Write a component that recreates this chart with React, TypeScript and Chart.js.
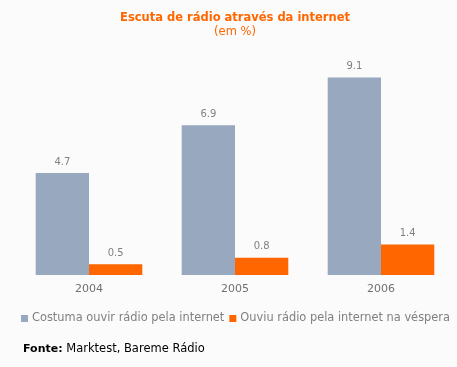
import React, { useEffect, useRef } from "react";
import { Chart, registerables } from "chart.js";

Chart.register(...registerables);

const categories = ["2004", "2005", "2006"];
const seriesNames = ["Costuma ouvir rádio pela internet", "Ouviu rádio pela internet na véspera"];
const costuma = [4.7, 6.9, 9.1];
const ouviu = [0.5, 0.8, 1.4];
const titleText = "Escuta de rádio através da internet";
const subtitleText = "(em %)";
const sourceLabel = "Fonte:";
const sourceText = " Marktest, Bareme Rádio";

const GRAY = "#97a8bf";
const ORANGE = "#ff6600";
const BG = "#fbfbfb";
const FONT = "'DejaVu Sans', Verdana, sans-serif";

export default function App() {
  const ref = useRef<HTMLCanvasElement>(null);
  useEffect(() => {
    document.body.style.margin = "0";
    document.body.style.background = BG;
    const canvas = ref.current!;
    const decor = {
      id: "decor",
      beforeDraw(chart: any) {
        const ctx = chart.ctx;
        ctx.save();
        ctx.fillStyle = BG;
        ctx.fillRect(0, 0, chart.width, chart.height);
        ctx.restore();
      },
      afterDraw(chart: any) {
        const ctx = chart.ctx;
        const area = chart.chartArea;
        const cx = (area.left + area.right) / 2;
        ctx.save();
        ctx.textAlign = "center";
        ctx.textBaseline = "middle";
        ctx.fillStyle = ORANGE;
        ctx.font = `bold 11.5px ${FONT}`;
        ctx.fillText(titleText, cx, 18);
        ctx.font = `11.5px ${FONT}`;
        ctx.fillText(subtitleText, cx, 32);

        // value labels
        ctx.font = `10px ${FONT}`;
        ctx.fillStyle = "#808080";
        chart.data.datasets.forEach((ds: any, di: number) => {
          const meta = chart.getDatasetMeta(di);
          meta.data.forEach((el: any, i: number) => {
            ctx.fillText(String(ds.data[i]), el.x, el.y - 11);
          });
        });

        // legend
        ctx.textAlign = "left";
        ctx.font = `11.4px ${FONT}`;
        let x = 21;
        const ly = 318;
        const colors = [GRAY, ORANGE];
        seriesNames.forEach((name, i) => {
          ctx.fillStyle = colors[i];
          ctx.fillRect(x, ly - 3, 7, 7);
          x += 11;
          ctx.fillStyle = "#808080";
          ctx.fillText(name, x, ly);
          x += ctx.measureText(name).width + 5;
        });

        // source
        ctx.fillStyle = "#000000";
        ctx.font = `bold 11px ${FONT}`;
        ctx.fillText(sourceLabel, 23, 349);
        const w = ctx.measureText(sourceLabel).width;
        ctx.font = `11.5px ${FONT}`;
        ctx.fillText(sourceText, 23 + w, 349);
        ctx.restore();
      },
    };
    const chart = new Chart(canvas, {
      type: "bar",
      data: {
        labels: categories,
        datasets: [
          { label: seriesNames[0], data: costuma, backgroundColor: GRAY, categoryPercentage: 0.73, barPercentage: 1 },
          { label: seriesNames[1], data: ouviu, backgroundColor: ORANGE, categoryPercentage: 0.73, barPercentage: 1 },
        ],
      },
      options: {
        animation: false,
        responsive: false,
        maintainAspectRatio: false,
        layout: { padding: { top: 58, left: 16, right: 3, bottom: 62 } },
        plugins: { legend: { display: false }, title: { display: false }, tooltip: { enabled: false } },
        scales: {
          x: {
            grid: { display: false, drawTicks: false },
            border: { display: false },
            ticks: { color: "#707070", font: { family: FONT, size: 11 }, padding: 8 },
            afterFit: (s: any) => { s.height = 30; },
          },
          y: { display: false, min: 0, max: 10 },
        },
      },
      plugins: [decor],
    });
    return () => chart.destroy();
  }, []);
  return (
    <div style={{ position: "absolute", left: 0, top: 0, width: 457, height: 367, background: BG }}>
      <canvas ref={ref} width={457} height={367} style={{ display: "block", width: 457, height: 367 }} />
    </div>
  );
}
